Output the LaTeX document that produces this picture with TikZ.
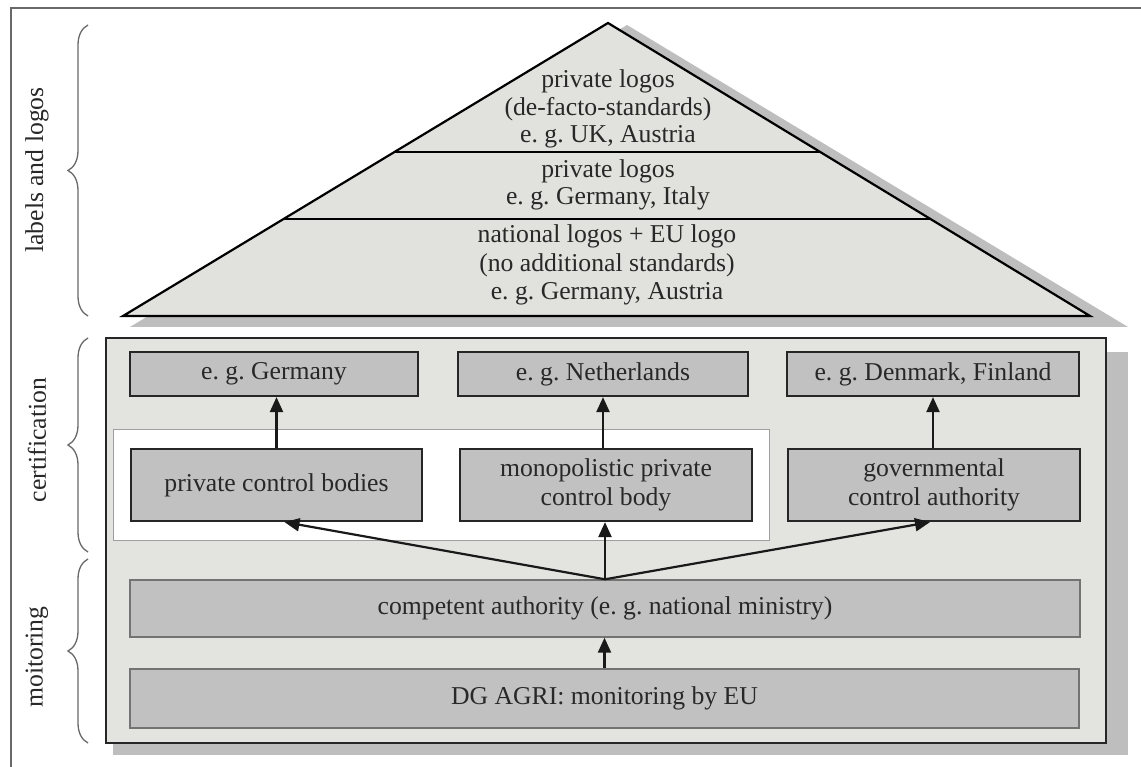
\documentclass[tikz,border=0pt]{standalone}
\usepackage{fontspec}
\setmainfont{Liberation Serif}
\frenchspacing
\usetikzlibrary{arrows.meta,calc,decorations.pathreplacing}
\definecolor{pyrfill}{RGB}{225,225,221}
\definecolor{panelfill}{RGB}{227,227,223}
\definecolor{boxfill}{RGB}{193,193,193}
\definecolor{shadowgray}{RGB}{190,190,190}
\definecolor{framegray}{RGB}{105,105,105}
\definecolor{inkgray}{RGB}{40,40,40}
\begin{document}
\begin{tikzpicture}[x=1pt,y=-1pt,
  txt/.style={font=\fontsize{25.7}{28.5}\selectfont, inner sep=0pt, text=inkgray},
  cbox/.style={txt, draw=black!85, line width=2.2pt, fill=boxfill, align=center},
  topbox/.style={cbox, minimum height=44pt},
  midbox/.style={cbox, minimum height=72pt},
  widebox/.style={txt, draw=black!55, line width=1.4pt, fill=boxfill, minimum height=58pt},
  arr/.style={-{Triangle[length=15pt,width=13pt]}, line width=2.2pt, draw=black!90},
  brc/.style={decorate, decoration={brace, amplitude=20pt}, draw=framegray, line width=1.3pt},
]
\clip (0,0) rectangle (1141,767);
\fill[white] (0,0) rectangle (1141,767);
% outer frame
\draw[framegray, line width=1.6pt] (11,8) rectangle (1150,780);

% pyramid
\coordinate (apex) at (608,23);
\coordinate (bl) at (123,316);
\coordinate (br) at (1090,316);
\fill[shadowgray] (627,25) -- (1128,327) -- (130,327) -- cycle;
\draw[fill=pyrfill, line width=2.2pt, line join=miter] (apex) -- (br) -- (bl) -- cycle;
\draw[line width=2.2pt] ($(bl)!0.5597!(apex)$) -- ($(br)!0.5597!(apex)$);
\draw[line width=2.2pt] ($(bl)!0.331!(apex)$) -- ($(br)!0.331!(apex)$);

% pyramid texts
\node[txt, anchor=base] (p1a) at (608,88) {private logos};
\node[txt, anchor=base] (p1b) at (608,116) {(de-facto-standards)};
\node[txt, anchor=base] (p1c) at (608,143) {e. g. UK, Austria};
\node[txt, anchor=base] (p2a) at (608,178) {private logos};
\node[txt, anchor=base] (p2b) at (608,205) {e. g. Germany, Italy};
\node[txt, anchor=base] (p3a) at (607,243) {national logos + EU logo};
\node[txt, anchor=base] (p3b) at (607,272) {(no additional standards)};
\node[txt, anchor=base] (p3c) at (607,300) {e. g. Germany, Austria};

% lower panel
\fill[shadowgray] (113,352) rectangle (1128,755);
\draw[fill=panelfill, line width=2pt, draw=black!85] (106,338) rectangle (1106,743);
\draw[fill=white, draw=gray!75, line width=1pt] (113,429) rectangle (769,540);

% certification boxes
\node[topbox, minimum width=288pt] (ger) at (274,374) {e. g. Germany};
\node[topbox, minimum width=290pt] (neth) at (603,374) {e. g. Netherlands};
\node[topbox, minimum width=292pt] (den) at (933,374) {e. g. Denmark, Finland};
\node[midbox, minimum width=291pt] (pcb) at (276.5,485) {private control bodies};
\node[midbox, minimum width=292pt] (mono) at (606,485) {monopolistic private\\control body};
\node[midbox, minimum width=292pt] (gov) at (934,485) {governmental\\control authority};

% monitoring boxes
\node[widebox, minimum width=950pt, minimum height=57pt] (comp) at (605,608.5) {competent authority (e. g. national ministry)};
\node[widebox, minimum width=949pt, minimum height=59pt] (dg) at (604.5,698.5) {DG AGRI: monitoring by EU};

% connectors
\draw[arr] (pcb.north) -- (pcb.north |- ger.south);
\draw[arr] (mono.north -| neth.south) -- (neth.south);
\draw[arr] (gov.north -| den.south) -- (den.south);
\draw[arr] (comp.north) -- ([xshift=8pt]pcb.south);
\draw[arr] (comp.north) -- (comp.north |- mono.south);
\draw[arr] (comp.north) -- ([xshift=-4pt]gov.south);
\draw[arr] (dg.north) -- (dg.north |- comp.south);

% braces and side labels
\draw[brc] (88,316) -- (88,25);
\draw[brc] (88,552) -- (88,338);
\draw[brc] (88,743) -- (88,559);
\node[txt, rotate=90] (lab1) at (37,170) {labels and logos};
\node[txt, rotate=90] (lab2) at (37,440) {certification};
\node[txt, rotate=90] (lab3) at (37,657) {moitoring};
\end{tikzpicture}
\end{document}
